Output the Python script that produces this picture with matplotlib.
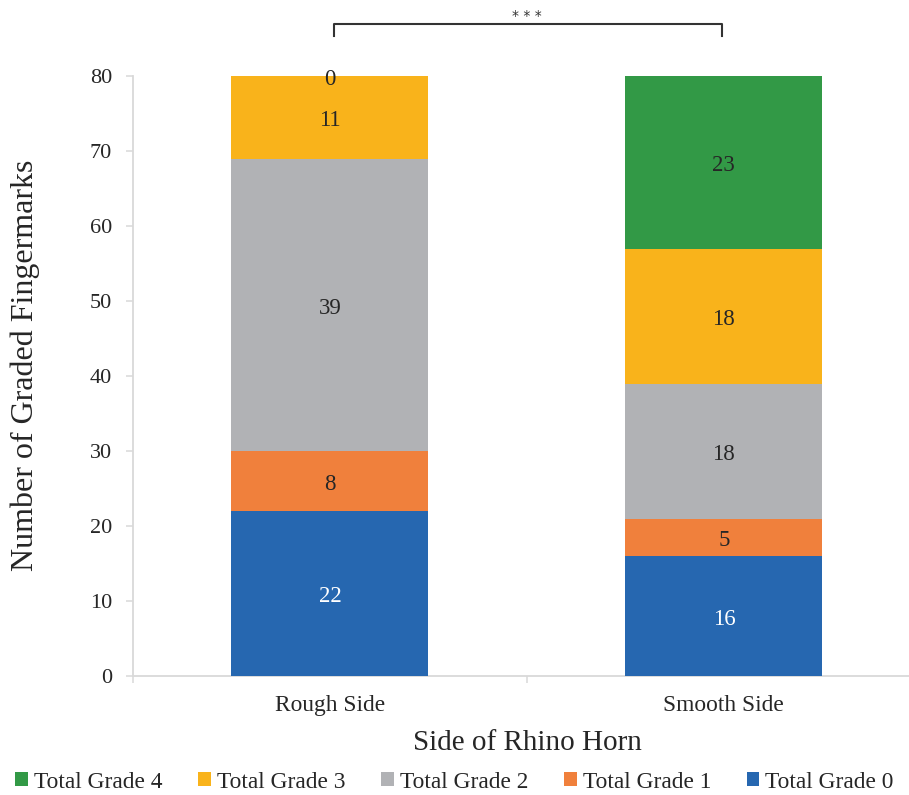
import numpy as np
import matplotlib.pyplot as plt
from matplotlib.ticker import FixedLocator

plt.rcParams['font.family'] = ['Liberation Serif', 'DejaVu Serif']

sides = ['Rough Side', 'Smooth Side']
grade0 = [22, 16]
grade1 = [8, 5]
grade2 = [39, 18]
grade3 = [11, 18]
grade4 = [0, 23]

series = [
    ('Total Grade 0', grade0, '#2667B0', 'white'),
    ('Total Grade 1', grade1, '#F0803C', '#262626'),
    ('Total Grade 2', grade2, '#B1B2B5', '#262626'),
    ('Total Grade 3', grade3, '#F9B31B', '#262626'),
    ('Total Grade 4', grade4, '#329946', '#262626'),
]

fig = plt.figure(figsize=(9.09, 7.95), dpi=100)
ax = fig.add_axes([133 / 909, 1 - 676 / 795, 1 - 133 / 909, 600 / 795])

x = np.arange(len(sides))
bottom = np.zeros(len(sides))
handles = []
for name, vals, color, tcolor in series:
    vals = np.array(vals, dtype=float)
    bars = ax.bar(x, vals, 0.5, bottom=bottom, color=color, label=name, zorder=2)
    handles.append(bars)
    for xi, b, v in zip(x, bottom, vals):
        ax.annotate(f'{int(v)}', (xi, b + v / 2), xytext=(0, -2.5),
                    textcoords='offset points', ha='center', va='center',
                    fontsize=16.5, color=tcolor, zorder=3)
    bottom += vals

ax.set_xlim(-0.5, 1.47)
ax.set_ylim(0, 80)
ax.set_yticks(np.arange(0, 81, 10))
ax.set_xticks(x)
ax.set_xticklabels(sides)
ax.xaxis.set_minor_locator(FixedLocator([-0.5, 0.5, 1.5]))

for s in ['top', 'right']:
    ax.spines[s].set_visible(False)
for s in ['left', 'bottom']:
    ax.spines[s].set_color('#D9D9D9')
    ax.spines[s].set_linewidth(1.3)
    ax.spines[s].set_zorder(1)

ax.tick_params(axis='y', length=5, width=1.1, color='#D9D9D9', pad=10,
               labelsize=16, labelcolor='#262626')
ax.tick_params(axis='x', which='major', length=0, pad=14, labelsize=16.8,
               labelcolor='#262626')
ax.tick_params(axis='x', which='minor', length=5, width=1.1, color='#D9D9D9')

ax.set_ylabel('Number of Graded Fingermarks', fontsize=23, color='#262626')
ax.yaxis.set_label_coords(-0.12, 0.517)
ax.set_xlabel('Side of Rhino Horn', fontsize=21, color='#262626', labelpad=10)
ax.xaxis.label.set_x(0.508)

# significance bracket
ax.plot([0.01, 0.01, 0.995, 0.995], [85.3, 86.9, 86.9, 85.3], color='#333333',
        lw=1.5, clip_on=False)
ax.text(0.5, 87.1, '* * *', ha='center', va='bottom', fontsize=10,
        color='#333333', family='DejaVu Sans')

leg = fig.legend(handles[::-1], [s[0] for s in series][::-1], loc='center',
                 bbox_to_anchor=(0.5, 1 - 782 / 795), ncol=5, frameon=False,
                 fontsize=16.8, handlelength=0.55, handleheight=0.55,
                 handletextpad=0.25, columnspacing=1.53, labelcolor='#262626')

fig.savefig('out.png', dpi=100)
